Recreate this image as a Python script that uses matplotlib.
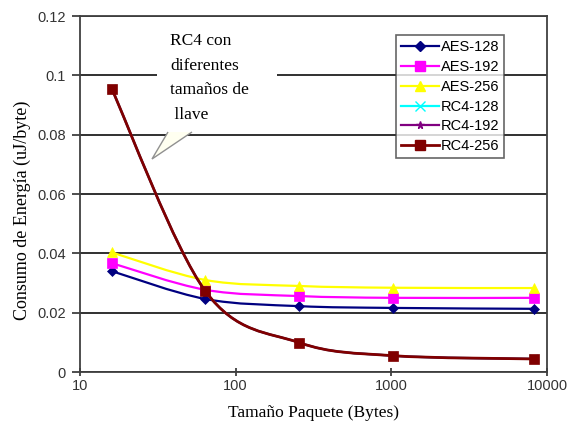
import numpy as np
import matplotlib
matplotlib.use("Agg")
from matplotlib import pyplot as plt
from matplotlib.path import Path
from matplotlib.patches import PathPatch, Rectangle, Polygon
from matplotlib.lines import Line2D

# packet sizes (bytes) and energy per byte (uJ/byte)
packet_sizes = [16, 64, 256, 1024, 8192]
aes_128 = [0.0340, 0.0246, 0.0222, 0.0216, 0.0213]
aes_192 = [0.0367, 0.0277, 0.0256, 0.0250, 0.0250]
aes_256 = [0.0403, 0.0310, 0.0290, 0.0284, 0.0283]
rc4_128 = [0.0954, 0.0272, 0.0099, 0.0055, 0.0044]
rc4_192 = [0.0954, 0.0272, 0.0099, 0.0055, 0.0044]
rc4_256 = [0.0954, 0.0272, 0.0099, 0.0055, 0.0044]

series_names = ["AES-128", "AES-192", "AES-256", "RC4-128", "RC4-192", "RC4-256"]
series_values = [aes_128, aes_192, aes_256, rc4_128, rc4_192, rc4_256]
y_ticks = [0, 0.02, 0.04, 0.06, 0.08, 0.1, 0.12]
y_tick_labels = ["0", "0.02", "0.04", "0.06", "0.08", "0.1", "0.12"]
x_ticks = [10, 100, 1000, 10000]
x_tick_labels = ["10", "100", "1000", "10000"]
callout_text = "RC4 con\ndiferentes\ntamaños de\n llave"

colors = ["#000080", "#ff00ff", "#ffff00", "#00ffff", "#800080", "#800000"]
markers = ["D", "s", "^", "x", "*", "s"]
msizes = [5, 7, 7, 6, 5, 6.5]
lwidths = [1.6, 1.6, 1.6, 1.6, 1.6, 2.0]

W, H = 571, 437
fig = plt.figure(figsize=(W / 100, H / 100), dpi=100)
ax = fig.add_axes([80 / W, 1 - 372 / H, (547 - 80) / W, (372 - 16) / H])
ax.set_xscale("log")
ax.set_xlim(10, 10000)
ax.set_ylim(0, 0.12)


def to_axes(xs, ys):
    # log x / linear y into axes fraction (affine there, so beziers stay valid)
    lx = (np.log10(xs) - 1) / 3.0
    ly = np.asarray(ys) / 0.12
    return np.column_stack([lx, ly])


def smooth_path(pts):
    # Excel-like smoothed line (Catmull-Rom converted to cubic bezier)
    verts = [pts[0]]
    codes = [Path.MOVETO]
    n = len(pts)
    for i in range(n - 1):
        p0 = pts[max(i - 1, 0)]
        p1 = pts[i]
        p2 = pts[i + 1]
        p3 = pts[min(i + 2, n - 1)]
        c1 = p1 + (p2 - p0) / 6.0
        c2 = p2 - (p3 - p1) / 6.0
        verts += [c1, c2, p2]
        codes += [Path.CURVE4] * 3
    return Path(verts, codes)


for i, (name, vals) in enumerate(zip(series_names, series_values)):
    pts = to_axes(packet_sizes, vals)
    patch = PathPatch(smooth_path(pts), facecolor="none", edgecolor=colors[i],
                      lw=lwidths[i], transform=ax.transAxes, zorder=3 + i)
    ax.add_patch(patch)
    ax.plot(packet_sizes, vals, linestyle="none", color=colors[i],
            marker=markers[i], markersize=msizes[i], markeredgecolor=colors[i],
            markeredgewidth=1.5 if markers[i] in ("x", "*") else 0.5,
            zorder=3.5 + i)

# legend proxies with line segments
leg_handles = [Line2D([], [], color=colors[i], lw=lwidths[i], marker=markers[i],
                      markersize=msizes[i] + 0.5, markeredgecolor=colors[i])
               for i in range(len(series_names))]

ax.set_yticks(y_ticks)
ax.set_yticklabels(y_tick_labels)
ax.set_xticks(x_ticks)
ax.set_xticklabels(x_tick_labels)
ax.minorticks_off()
ax.yaxis.grid(True, color="#202020", lw=1.3)
ax.set_axisbelow(True)
for s in ax.spines.values():
    s.set_color("#404040")
    s.set_linewidth(1.3)
ax.tick_params(axis="y", direction="out", length=6, width=1.3, color="#404040",
               labelsize=10.5, labelcolor="#333333", pad=4)
ax.tick_params(axis="x", direction="inout", length=6, width=1.3, color="#404040",
               labelsize=10.5, labelcolor="#333333", pad=2)
for lab in ax.get_xticklabels() + ax.get_yticklabels():
    lab.set_fontfamily("Liberation Sans")

ax.set_xlabel("Tamaño Paquete (Bytes)", fontsize=12.5, fontfamily="Liberation Serif",
              labelpad=9)
fig.text(22 / W, 1 - 210 / H, "Consumo de Energía (uJ/byte)", rotation=90,
         fontsize=13, fontfamily="Liberation Serif", ha="center", va="center",
         bbox=dict(facecolor="white", edgecolor="none", pad=1.5))

leg = ax.legend(leg_handles, series_names, loc="upper left",
                bbox_to_anchor=((396 - 80) / (547 - 80), 1 - (35 - 16) / (372 - 16)),
                prop={"family": "Liberation Sans", "size": 10.5}, frameon=True,
                fancybox=False, handlelength=2.6, handletextpad=0.1, labelspacing=0.4,
                borderpad=0.35, borderaxespad=0)
leg.get_frame().set_edgecolor("#404040")
leg.get_frame().set_linewidth(1.2)
leg.set_zorder(20)

# callout box with tail
fig.patches.append(Rectangle((157 / W, 1 - 132 / H), 120 / W, 110 / H,
                             transform=fig.transFigure, facecolor="white",
                             edgecolor="none", zorder=10))
tail = [(168 / W, 1 - 132 / H), (152 / W, 1 - 159 / H), (192 / W, 1 - 132 / H)]
fig.patches.append(Polygon(tail, closed=False, transform=fig.transFigure,
                           facecolor="#fffff0", edgecolor="#909090", lw=1.0, zorder=11))
fig.text(170 / W, 1 - 33 / H, callout_text, fontsize=12.5, fontfamily="Liberation Serif",
         ha="left", va="top", linespacing=1.72, zorder=12)

fig.savefig("out.png", dpi=100)
